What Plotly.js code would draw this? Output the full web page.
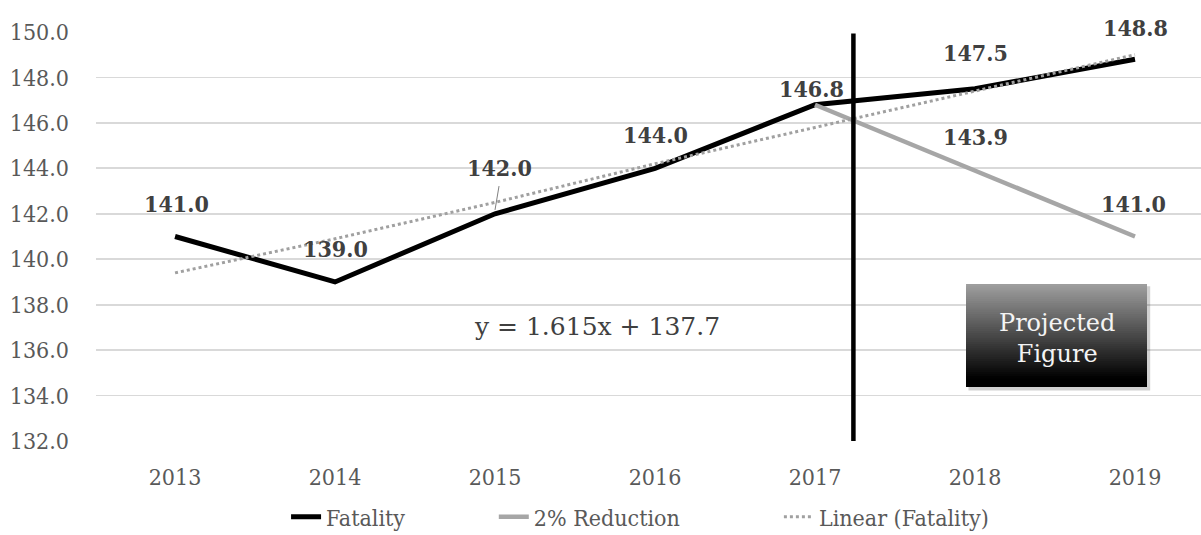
<!DOCTYPE html>
<html>
<head>
<meta charset="utf-8">
<script src="https://cdn.plot.ly/plotly-3.0.1.min.js"></script>
<style>html,body{margin:0;padding:0;background:#fff;}#chart{width:1201px;height:535px;}</style>
</head>
<body>
<div id="chart"></div>
<script>
var years = ['2013','2014','2015','2016','2017','2018','2019'];
var fatality = [141.0, 139.0, 142.0, 144.0, 146.8, 147.5, 148.8];
var reductionYears = ['2017','2018','2019'];
var reduction = [146.8, 143.9, 141.0];
var linearTrend = [139.4, 140.9, 142.5, 144.2, 145.8, 147.4, 149.0];
var yTicks = [132,134,136,138,140,142,144,146,148,150];
var yTickLabels = yTicks.map(function(v){return v.toFixed(1);});

var FONT = 'DejaVu Serif Condensed, DejaVu Serif, serif';
var FONTW = 'DejaVu Serif, serif';
var TXT = '#595959';

var traces = [
  {x: years, y: fatality, type:'scatter', mode:'lines', name:'Fatality', legend:'legend',
   line:{color:'#000000', width:5}},
  {x: reductionYears, y: reduction, type:'scatter', mode:'lines', name:'2% Reduction', legend:'legend2',
   line:{color:'#a6a6a6', width:4.5}},
  {x: years, y: linearTrend, type:'scatter', mode:'lines', name:'Linear (Fatality)', legend:'legend3',
   line:{color:'#a0a0a0', width:3, dash:'dot'}}
];

// label offsets in px (dx, dy)
var fatOff = [[1,33],[0,33],[4,46],[0,34],[-4,16],[0,36],[0,32]];
var redOff = [[0,0],[0,34],[-2,33]];

var annotations = [];
var lblFont = {family:FONT, size:23, color:'#404040', weight:'bold'};
fatality.forEach(function(v,i){
  annotations.push({x: i, y: v, xref:'x', yref:'y', text: v.toFixed(1), showarrow:false,
    xshift: fatOff[i][0], yshift: fatOff[i][1], font: lblFont});
});
reduction.forEach(function(v,i){
  if(i===0) return;
  annotations.push({x: years.indexOf(reductionYears[i]), y: v, xref:'x', yref:'y', text: v.toFixed(1), showarrow:false,
    xshift: redOff[i][0], yshift: redOff[i][1], font: lblFont});
});
annotations.push({x:2.64, y:137.02, xref:'x', yref:'y', text:'y = 1.615x + 137.7', showarrow:false,
  font:{family:FONTW, size:25, color:'#404040'}});
annotations.push({x:5.51, y:136.5, xref:'x', yref:'y', text:'Projected<br>Figure', showarrow:false,
  font:{family:FONTW, size:24, color:'#f4f4f4'}});

var shapes = [];
// leader line for 142.0 label
shapes.push({type:'line', xref:'x', yref:'y', x0:2.025, y0:143.22, x1:2.0, y1:142.17, line:{color:'#808080', width:1}});
// vertical divider
shapes.push({type:'line', xref:'x', yref:'y', x0:4.24, x1:4.24, y0:132, y1:149.93, line:{color:'#000000', width:4.5}});
// Projected Figure box: shadow + cumulative strips for a vertical gradient
var bx0 = 4.944, bx1 = 6.075, by0 = 134.375, by1 = 138.91;
shapes.push({type:'rect', xref:'x', yref:'y', x0:bx0+0.015, x1:bx1+0.02, y0:by0-0.15, y1:by1-0.1, fillcolor:'rgba(0,0,0,0.18)', line:{width:0}, layer:'above'});
var n = 48;
for (var k=0;k<n;k++){
  var t = k/(n-1);
  var c = Math.max(0, Math.round(158*(1 - t*1.08)));
  var ya = by1 - (by1-by0)*k/n;
  shapes.push({type:'rect', xref:'x', yref:'y', x0:bx0, x1:bx1, y0:by0, y1:ya,
    fillcolor:'rgb('+c+','+c+','+c+')', line:{width:0}, layer:'above'});
}

function leg(x){
  return {orientation:'h', x:x, xanchor:'left', xref:'paper', y:0.034, yref:'container', yanchor:'middle',
    font:{family:FONT, size:23, color:TXT}, bgcolor:'rgba(0,0,0,0)'};
}

var layout = {
  width:1201, height:535,
  margin:{l:96, r:0, t:32, b:94},
  paper_bgcolor:'#ffffff', plot_bgcolor:'#ffffff',
  showlegend:true,
  legend: leg(0.172),
  legend2: leg(0.360),
  legend3: leg(0.618),
  xaxis:{type:'category', categoryorder:'array', categoryarray: years, range:[-0.494, 6.4125],
    showgrid:false, zeroline:false, showline:false, ticks:'',
    tickfont:{family:FONT, size:23, color:TXT}, ticklabelstandoff:20},
  yaxis:{range:[132,150], tickvals:yTicks, ticktext:yTickLabels, showgrid:true, gridcolor:'#d9d9d9', gridwidth:1.8,
    zeroline:false, showline:false, ticks:'', tickfont:{family:FONT, size:23, color:TXT}, ticklabelstandoff:26},
  annotations: annotations,
  shapes: shapes
};
Plotly.newPlot('chart', traces, layout, {displayModeBar:false, staticPlot:true});
</script>
</body>
</html>
